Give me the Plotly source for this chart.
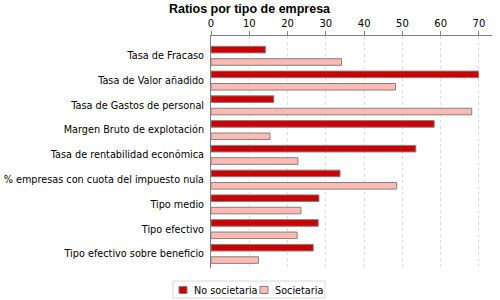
import plotly.graph_objects as go

categorias = ['Tasa de Fracaso', 'Tasa de Valor añadido',
              'Tasa de Gastos de personal', 'Margen Bruto de explotación',
              'Tasa de rentabilidad económica',
              '% empresas con cuota del impuesto nula', 'Tipo medio',
              'Tipo efectivo', 'Tipo efectivo sobre beneficio']
no_societaria = [14.2, 69.9, 16.4, 58.3, 53.5, 33.7, 28.2, 28.0, 26.7]
societaria = [34.1, 48.2, 68.1, 15.4, 22.7, 48.5, 23.5, 22.5, 12.4]
x_ticks = [0, 10, 20, 30, 40, 50, 60, 70]

colores = ['#CC0000', '#FFBBB3']
nombres = ['No societaria', 'Societaria']
font_name = 'DejaVu Sans'

# plot area in page pixels
L, R, T, B = 211, 492, 36, 268


def px_x(x):
    return (x - L) / (R - L)


def px_y(y):
    return (B - y) / (B - T)


fig = go.Figure()
for nombre, valores, color in zip(nombres, [no_societaria, societaria], colores):
    fig.add_trace(go.Bar(
        y=categorias, x=valores, orientation='h', name=nombre,
        marker=dict(color=color, line=dict(color='#808080', width=1)),
        showlegend=False
    ))

# legend drawn by hand (compact, like the original)
fig.add_shape(type='rect', xref='paper', yref='paper',
              x0=px_x(173), x1=px_x(325), y0=px_y(298), y1=px_y(281),
              line=dict(color='#d8d8d8', width=1), fillcolor='white')
for sx, tx, nombre, color in zip([179, 260], [192, 273], nombres, colores):
    fig.add_shape(type='rect', xref='paper', yref='paper',
                  x0=px_x(sx), x1=px_x(sx + 8), y0=px_y(293.5), y1=px_y(286.5),
                  line=dict(color='#808080', width=1), fillcolor=color)
    fig.add_annotation(text=nombre, xref='paper', yref='paper',
                       x=px_x(tx), y=px_y(290), xanchor='left', yanchor='middle',
                       showarrow=False, font=dict(family=font_name, size=9.7))

fig.update_layout(
    width=500, height=300,
    margin=dict(l=L, r=500 - R, t=T, b=300 - B),
    paper_bgcolor='white', plot_bgcolor='white',
    font=dict(family=font_name, size=9, color='black'),
    barmode='group', bargap=0.0, bargroupgap=0.47,
    title=dict(text='<b>Ratios por tipo de empresa</b>',
               x=0.499, xanchor='center', xref='container',
               y=0.97, yanchor='middle', yref='container',
               font=dict(family='Liberation Sans', size=12.5, color='black')),
    showlegend=False,
)
fig.update_xaxes(
    side='top', range=[0, 73.4], tickvals=x_ticks, automargin=False,
    showgrid=True, gridcolor='#dcdcdc', griddash='3px,3px', gridwidth=1,
    showline=True, linecolor='#808080', linewidth=1,
    ticks='outside', ticklen=4, tickcolor='#808080',
    zeroline=False, tickfont=dict(size=10)
)
fig.update_yaxes(
    range=[8.57, -0.8], showgrid=False, automargin=False,
    showline=True, linecolor='#808080', linewidth=1,
    ticks='', ticklabelstandoff=4, zeroline=False,
    tickfont=dict(size=9.7)
)

fig.write_html('out.html', config={'displayModeBar': False},
               post_script="document.body.style.margin='0';")
